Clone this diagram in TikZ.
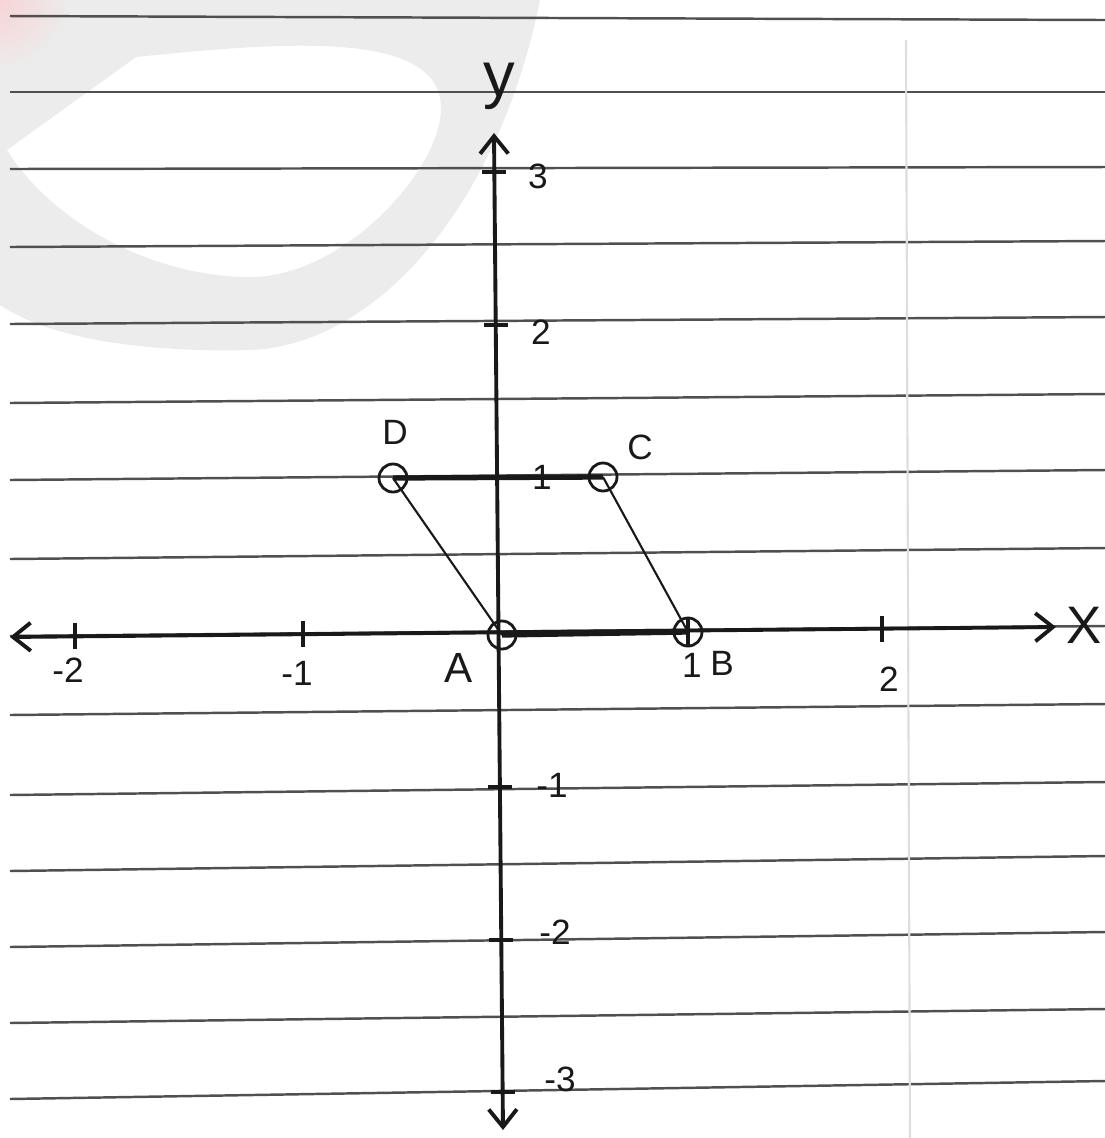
\documentclass[tikz,border=0pt]{standalone}
\usepackage{fontspec}
\setmainfont{Liberation Sans}
\usetikzlibrary{arrows.meta}

\definecolor{ink}{RGB}{25,25,25}
\definecolor{rule}{RGB}{80,80,80}
\definecolor{margin}{RGB}{222,222,222}
\definecolor{wmark}{RGB}{236,236,236}
\definecolor{wpink}{RGB}{248,212,212}

\begin{document}
\begin{tikzpicture}[x=0.01cm, y=-0.01cm,
    ruled/.style={rule, line width=0.7pt},
    axis/.style={ink, line width=1.1pt},
    side/.style={ink, line width=0.6pt},
    base/.style={ink, line width=1.5pt},
    pt/.style={circle, draw=ink, line width=0.8pt, minimum size=0.28cm, inner sep=0pt},
    tick/.style={ink, line width=1pt},
    lbl/.style={text=ink, inner sep=0pt, font=\fontsize{10}{12}\selectfont},
    >={Straight Barb[length=5pt, width=8pt]}]
  \useasboundingbox (0,0) rectangle (1105,1138);
  \fill[white] (0,0) rectangle (1105,1138);
  % watermark
  \fill[wmark, even odd rule] (0,0) -- (0,305) .. controls (60,345) and (170,352) .. (250,350)
    .. controls (380,345) and (500,200) .. (540,0) -- cycle
    (7,150) -- (136,57) .. controls (300,40) and (455,30) .. (440,120)
    .. controls (430,180) and (340,277) .. (250,277)
    .. controls (150,277) and (50,220) .. (7,150) -- cycle;
  \shade[inner color=wpink, outer color=wmark] (0,0) circle[radius=70];
  % notebook rules
  \foreach \l/\r in {16/20, 92/92, 169/167, 247/241, 324/317, 403/394, 480/470, 559/548,
      636/626, 715/704, 795/782, 871/856, 947/932, 1023/1009, 1099/1081}
    \draw[ruled] (10,\l) -- (1105,\r);
  \draw[margin, line width=0.6pt] (906,40) -- (910,1138);

  % axes
  \coordinate (xl) at (10,637);
  \coordinate (xr) at (1056,627);
  \coordinate (yt) at (494,133);
  \coordinate (yb) at (503,1130);
  \draw[axis, <->] (xl) -- (xr);
  \draw[axis, <->] (yt) -- (yb);
  \node[lbl, font=\fontsize{15}{18}\selectfont] (xlab) at (1084,625) {X};
  \node[lbl, font=\fontsize{18}{20}\selectfont] (ylab) at (499,86) {y};

  % ticks
  \foreach \x/\y in {75/636, 303/634, 882/629}
    \draw[tick] (\x,\y-13) -- (\x,\y+13);
  \foreach \x/\y in {494/172, 496/325, 497/477, 500/787, 501/940, 503/1092}
    \draw[tick] (\x-12,\y) -- (\x+12,\y);
  \node[lbl] (xm2) at (68,670) {-2};
  \node[lbl] (xm1) at (297,673) {-1};
  \node[lbl] (xp1) at (692,665) {1};
  \node[lbl] (xp2) at (889,679) {2};
  \node[lbl] (yp3) at (538,176) {3};
  \node[lbl] (yp2) at (541,332) {2};
  \node[lbl] (yp1) at (542,477) {1};
  \node[lbl] (ym1) at (552,785) {-1};
  \node[lbl] (ym2) at (555,932) {-2};
  \node[lbl] (ym3) at (560,1079) {-3};

  % parallelogram
  \node[pt] (A) at (502,635) {};
  \node[pt] (B) at (688,632) {};
  \node[pt] (C) at (603,477) {};
  \node[pt] (D) at (393,478) {};
  \draw[base] (D.center) -- (C.center);
  \draw[base] (A.center) -- (B.center);
  \draw[side] (D.center) -- (A.center);
  \draw[side] (C.center) -- (B.center);
  \draw[tick] (B.north) -- (B.south);
  \node[lbl, font=\fontsize{12}{14}\selectfont] (Alab) at (459,668) {A};
  \node[lbl] (Blab) at (722,663) {B};
  \node[lbl] (Clab) at (640,447) {C};
  \node[lbl] (Dlab) at (395,432) {D};
\end{tikzpicture}
\end{document}
